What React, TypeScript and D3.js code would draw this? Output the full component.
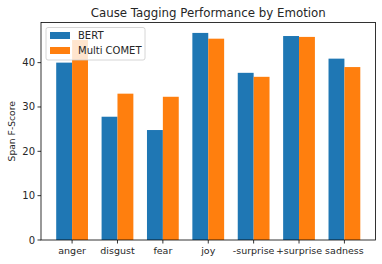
import React from "react";
import * as d3 from "d3";

const categories = ["anger", "disgust", "fear", "joy", "-surprise", "+surprise", "sadness"];
const bertValues = [40.0, 27.8, 24.8, 46.7, 37.7, 46.0, 40.9];
const cometValues = [45.1, 33.0, 32.3, 45.4, 36.8, 45.8, 39.0];
const seriesNames = ["BERT", "Multi COMET"];
const yTicks = [0, 10, 20, 30, 40];

const W = 382, H = 264;
const M = { left: 41, right: 375.5, top: 22.5, bottom: 240 };
const colors = ["#1f77b4", "#ff7f0e"];
const font = "DejaVu Sans, sans-serif";

export default function App() {
  const n = categories.length;
  const x = d3.scaleLinear().domain([-0.685, n - 1 + 0.685]).range([M.left, M.right]);
  const y = d3.scaleLinear().domain([0, 49.05]).range([M.bottom, M.top]);
  const bw = 0.35;
  const series = [bertValues, cometValues];
  return (
    <svg width={W} height={H} style={{ position: "absolute", left: 0, top: 0 }} fontFamily={font}>
      <rect x={0} y={0} width={W} height={H} fill="white" />
      {series.map((vals, s) =>
        vals.map((v, i) => {
          const x0 = x(i + (s === 0 ? -bw : 0));
          const x1 = x(i + (s === 0 ? 0 : bw));
          return <rect key={`${s}-${i}`} x={x0} y={y(v)} width={x1 - x0} height={y(0) - y(v)} fill={colors[s]} />;
        })
      )}
      <rect x={M.left} y={M.top} width={M.right - M.left} height={M.bottom - M.top} fill="none" stroke="#000" strokeWidth={0.8} />
      {yTicks.map((t) => (
        <g key={t}>
          <line x1={M.left - 3.5} x2={M.left} y1={y(t)} y2={y(t)} stroke="#000" strokeWidth={0.8} />
          <text x={M.left - 6} y={y(t)} dy="0.35em" textAnchor="end" fontSize={10} fill="#262626">{t}</text>
        </g>
      ))}
      {categories.map((c, i) => (
        <g key={c}>
          <line x1={x(i)} x2={x(i)} y1={M.bottom} y2={M.bottom + 3.5} stroke="#000" strokeWidth={0.8} />
          <text x={x(i)} y={M.bottom + 14} textAnchor="middle" fontSize={9.5} fill="#262626">{c}</text>
        </g>
      ))}
      <text transform={`translate(14.5,${(M.top + M.bottom) / 2}) rotate(-90)`} textAnchor="middle" fontSize={9.2} fill="#262626">Span F-Score</text>
      <text x={(M.left + M.right) / 2} y={17} textAnchor="middle" fontSize={11.8} fill="#262626">Cause Tagging Performance by Emotion</text>
      <g>
        <rect x={46} y={27.5} width={99} height={32.5} rx={2} fill="white" fillOpacity={0.8} stroke="#cccccc" strokeWidth={0.8} />
        {seriesNames.map((nm, i) => (
          <g key={nm}>
            <rect x={50} y={32 + i * 15} width={20} height={7} fill={colors[i]} />
            <text x={78} y={35.5 + i * 15} dy="0.35em" fontSize={10} fill="#262626">{nm}</text>
          </g>
        ))}
      </g>
    </svg>
  );
}
